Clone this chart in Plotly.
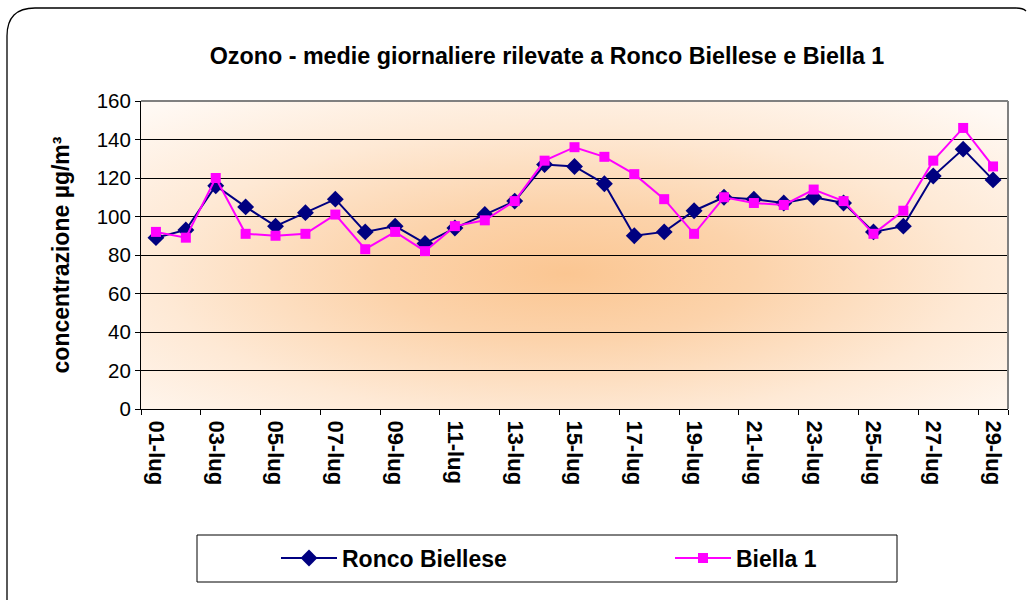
import base64
import plotly.graph_objects as go

# ---- data ----
days = [f"{d:02d}-lug" for d in range(1, 30)]
tick_days = [f"{d:02d}-lug" for d in range(1, 30, 2)]
ronco = [89, 93, 116, 105, 95, 102, 109, 92, 95, 86, 94, 101, 108, 127, 126,
         117, 90, 92, 103, 110, 109, 107, 110, 107, 92, 95, 121, 135, 119]
biella = [92, 89, 120, 91, 90, 91, 101, 83, 92, 82, 95, 98, 108, 129, 136,
          131, 122, 109, 91, 110, 107, 106, 114, 108, 91, 103, 129, 146, 126]
y_ticks = [0, 20, 40, 60, 80, 100, 120, 140, 160]

W, H = 1027, 601
ML, MR, MT, MB = 141, 19, 101, 192
PW, PH = W - ML - MR, H - MT - MB


def px(xp):
    return (xp - ML) / PW


def py(yp):
    return (H - MB - yp) / PH


svg = (
    '<svg xmlns="http://www.w3.org/2000/svg" width="866" height="308" '
    'preserveAspectRatio="none" viewBox="0 0 866 308">'
    '<defs><radialGradient id="g" cx="0.49" cy="0.56" r="0.72">'
    '<stop offset="0" stop-color="#FBC692"/>'
    '<stop offset="0.3" stop-color="#FCD3AB"/>'
    '<stop offset="0.65" stop-color="#FEE9D5"/>'
    '<stop offset="1" stop-color="#FFF9F4"/>'
    '</radialGradient></defs>'
    '<rect width="866" height="308" fill="url(#g)"/></svg>'
)
src = "data:image/svg+xml;base64," + base64.b64encode(svg.encode()).decode()

fig = go.Figure()
fig.add_trace(go.Scatter(
    x=days, y=ronco, name="<b>Ronco Biellese</b>", mode="lines+markers",
    line=dict(color="#000080", width=2),
    marker=dict(symbol="diamond", size=13, color="#000080"),
    legend="legend",
))
fig.add_trace(go.Scatter(
    x=days, y=biella, name="<b>Biella 1</b>", mode="lines+markers",
    line=dict(color="#FF00FF", width=2),
    marker=dict(symbol="square", size=10, color="#FF00FF"),
    legend="legend2",
))

# outer rounded frame, kept inside the figure bounds
L, T, B, r = 7, 8, 600, 28
path = (f"M{px(L)},{py(B)} L{px(L)},{py(T + r)} "
        f"Q{px(L)},{py(T)} {px(L + r)},{py(T)} "
        f"L{px(1016)},{py(T)} Q{px(1023)},{py(T)} {px(1026)},{py(T + 3)}")

shapes = [
    dict(type="path", xref="paper", yref="paper", path=path,
         line=dict(color="black", width=1.3), fillcolor="rgba(0,0,0,0)", layer="above"),
    dict(type="line", xref="paper", yref="paper", x0=0, x1=1, y0=1, y1=1,
         line=dict(color="#808080", width=2), layer="above"),
    dict(type="line", xref="paper", yref="paper", x0=1, x1=1, y0=0, y1=1,
         line=dict(color="#808080", width=2), layer="above"),
    dict(type="rect", xref="paper", yref="paper", x0=px(197), x1=px(897),
         y0=py(582), y1=py(535), line=dict(color="black", width=1),
         fillcolor="rgba(0,0,0,0)", layer="above"),
]

leg_common = dict(orientation="h", xanchor="left", y=py(558), yanchor="middle",
                  font=dict(size=23, color="black"), bgcolor="rgba(0,0,0,0)",
                  borderwidth=0, itemwidth=56)

fig.update_layout(
    width=W, height=H,
    margin=dict(l=ML, r=MR, t=MT, b=MB),
    paper_bgcolor="white", plot_bgcolor="white",
    font=dict(family="Liberation Sans, Arial, sans-serif", color="black"),
    title=dict(text="<b>Ozono - medie giornaliere rilevate a Ronco Biellese e Biella 1</b>",
               x=547 / W, xanchor="center", y=1 - 56 / H, yanchor="middle",
               font=dict(size=23.3, color="black")),
    images=[dict(source=src, xref="paper", yref="paper", x=0, y=1, sizex=1, sizey=1,
                 xanchor="left", yanchor="top", sizing="stretch", layer="below")],
    shapes=shapes,
    showlegend=True,
    legend=dict(x=px(276), **leg_common),
    legend2=dict(x=px(670), **leg_common),
    xaxis=dict(type="category", categoryorder="array", categoryarray=days,
               range=[-0.5, 28.5], tickmode="array", tickvals=tick_days,
               ticktext=[f"<b>{t}</b>" for t in tick_days], tickangle=90,
               tickson="boundaries", ticks="outside", ticklen=5, tickcolor="black",
               ticklabelstandoff=6,
               showline=True, linecolor="black", linewidth=1, showgrid=False,
               tickfont=dict(size=22, color="black")),
    yaxis=dict(range=[0, 160], tickmode="array", tickvals=y_ticks,
               ticks="outside", ticklen=5, tickcolor="black",
               showline=True, linecolor="black", linewidth=1,
               showgrid=True, gridcolor="black", gridwidth=1, zeroline=False,
               tickfont=dict(size=20.5, color="black"),
               title=dict(text="<b>concentrazione µg/m³</b>", standoff=20,
                          font=dict(size=23, color="black"))),
)

fig.write_html("out.html", config={"displayModeBar": False},
               post_script="document.body.style.margin='0';document.body.style.overflow='hidden';")
